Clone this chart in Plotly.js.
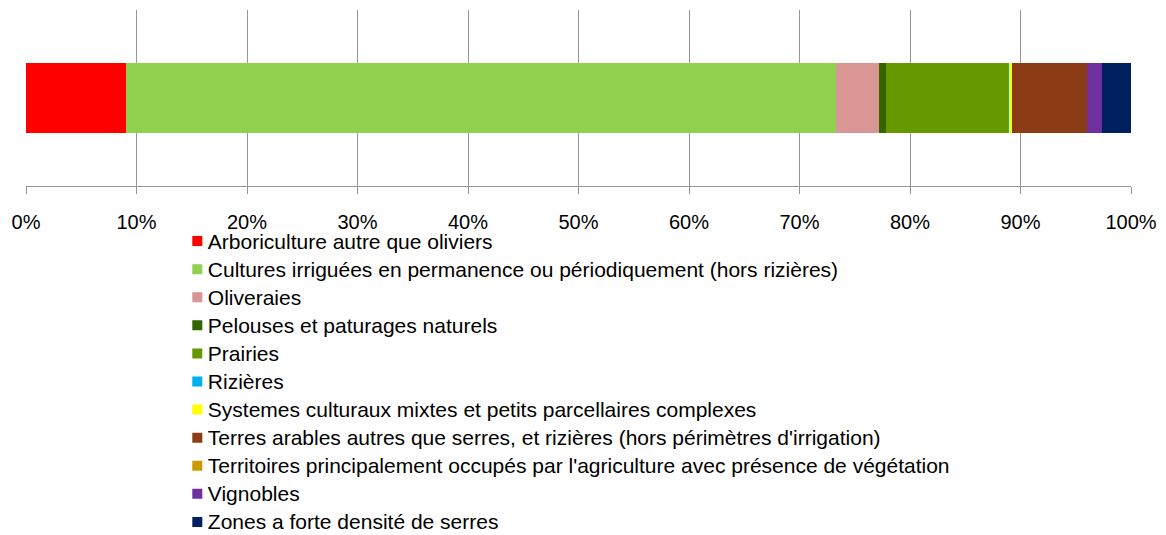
<!DOCTYPE html>
<html>
<head>
<meta charset="utf-8">
<script src="https://cdn.plot.ly/plotly-3.0.1.min.js"></script>
<style>body{margin:0;padding:0;background:#fff;}#chart{width:1166px;height:535px;} .legend .scrollbar{display:none;}</style>
</head>
<body>
<div id="chart"></div>
<script>
const categories = [
  "Arboriculture autre que oliviers",
  "Cultures irriguées en permanence ou périodiquement (hors rizières)",
  "Oliveraies",
  "Pelouses et paturages naturels",
  "Prairies",
  "Rizières",
  "Systemes culturaux mixtes et petits parcellaires complexes",
  "Terres arables autres que serres, et rizières (hors périmètres d'irrigation)",
  "Territoires principalement occupés par l'agriculture avec présence de végétation",
  "Vignobles",
  "Zones a forte densité de serres"
];
const shares = [9.02, 64.24, 3.92, 0.63, 11.07, 0.08, 0.23, 6.84, 0.02, 1.33, 2.62];
const colors = ["#FF0000", "#92D050", "#DA9694", "#336600", "#669900", "#00B0F0", "#FFFF00", "#8B3C14", "#CC9900", "#7030A0", "#002060"];
const tickValues = [0, 10, 20, 30, 40, 50, 60, 70, 80, 90, 100];

const W = 1166, H = 535;
const plotL = 26, plotR = 1131, plotT = 10, plotB = 186;

const traces = categories.map((name, i) => ({
  type: 'bar',
  orientation: 'h',
  name: '<span style="font-size:21px">' + name + '</span>',
  x: [shares[i]],
  y: ['A'],
  marker: {color: colors[i], line: {width: 0}},
  hoverinfo: 'x'
}));

const layout = {
  width: W,
  height: H,
  barmode: 'stack',
  bargap: 0.597,
  margin: {l: plotL, r: W - plotR, t: plotT, b: H - plotB, autoexpand: false},
  paper_bgcolor: '#ffffff',
  plot_bgcolor: '#ffffff',
  font: {family: 'Liberation Sans, Arial, sans-serif', color: '#000000'},
  showlegend: true,
  legend: {
    orientation: 'v',
    x: (177.3 - plotL) / (plotR - plotL), xanchor: 'left',
    y: (plotB - 222) / (plotB - plotT), yanchor: 'top',
    font: {size: 19.3, color: '#000000'},
    traceorder: 'normal',
    itemwidth: 30,
    borderwidth: 0,
    maxheight: 330,
    bgcolor: 'rgba(0,0,0,0)'
  },
  xaxis: {
    range: [0, 100],
    tickvals: tickValues,
    ticktext: tickValues.map(v => v + '%'),
    showgrid: true,
    gridcolor: '#969696',
    gridwidth: 1,
    zeroline: false,
    showline: true,
    linecolor: '#969696',
    linewidth: 1,
    ticks: 'outside',
    ticklen: 7,
    tickcolor: '#969696',
    ticklabelstandoff: 11,
    tickfont: {size: 20, color: '#000000'},
    fixedrange: true
  },
  yaxis: {
    range: [-0.5, 0.5],
    showticklabels: false,
    showgrid: false,
    zeroline: false,
    showline: false,
    ticks: '',
    fixedrange: true
  }
};

Plotly.newPlot('chart', traces, layout, {displayModeBar: false, staticPlot: true}).then(function (gd) {
  gd.querySelectorAll('.legend .legendtext').forEach(function (t) {
    t.setAttribute('x', '30.5');
  });
  gd.querySelectorAll('.legend .legendpoints path').forEach(function (p) {
    p.setAttribute('d', 'M5,5H-5V-5H5Z');
  });
});
</script>
</body>
</html>
